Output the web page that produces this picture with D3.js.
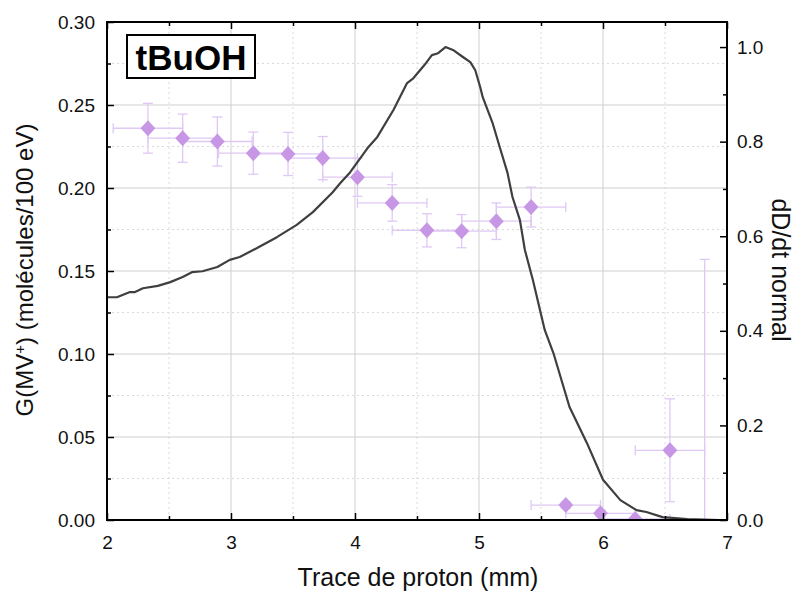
<!DOCTYPE html>
<html><head><meta charset="utf-8">
<script src="https://cdn.jsdelivr.net/npm/d3@7"></script>
<style>body{margin:0;background:#fff}text{font-family:"Liberation Sans",Arial,sans-serif}</style>
</head><body><svg id="c" width="795" height="592"></svg>
<script>
// Data
const ptX = [2.33, 2.61, 2.89, 3.18, 3.46, 3.74, 4.02, 4.30, 4.58, 4.86, 5.14, 5.42, 5.70, 5.98, 6.26, 6.54, 6.82];
const ptY = [0.236, 0.230, 0.228, 0.221, 0.2205, 0.218, 0.2065, 0.191, 0.1745, 0.174, 0.180, 0.1885, 0.009, 0.004, 0.0006, 0.042, -0.02];
const ptYerr = [0.015, 0.0145, 0.0148, 0.0127, 0.013, 0.013, 0.0115, 0.011, 0.010, 0.010, 0.011, 0.012, 0.002, 0.002, 0.001, 0.031, 0.177];
const ptXerr = [0.28, 0.28, 0.28, 0.28, 0.28, 0.28, 0.28, 0.28, 0.28, 0.28, 0.28, 0.28, 0.28, 0.28, 0.28, 0.28, 0.28];
const curveX = [2.0, 2.08, 2.185, 2.226, 2.29, 2.41, 2.51, 2.61, 2.685, 2.77, 2.89, 2.99, 3.07, 3.21, 3.37, 3.53, 3.66, 3.82, 3.88, 3.96, 4.10, 4.18, 4.31, 4.42, 4.47, 4.56, 4.62, 4.67, 4.73, 4.79, 4.87, 4.93, 4.97, 5.01, 5.03, 5.11, 5.17, 5.23, 5.27, 5.33, 5.37, 5.435, 5.53, 5.60, 5.73, 5.87, 6.0, 6.14, 6.27, 6.35, 6.48, 6.68, 6.94];
const curveY = [0.471, 0.471, 0.482, 0.482, 0.490, 0.495, 0.503, 0.514, 0.524, 0.526, 0.535, 0.550, 0.556, 0.575, 0.598, 0.624, 0.651, 0.693, 0.712, 0.735, 0.786, 0.810, 0.867, 0.924, 0.934, 0.962, 0.983, 0.987, 1.0, 0.994, 0.979, 0.968, 0.951, 0.915, 0.894, 0.839, 0.786, 0.734, 0.683, 0.634, 0.571, 0.507, 0.402, 0.353, 0.239, 0.163, 0.085, 0.042, 0.021, 0.017, 0.006, 0.002, 0.0];
const xTicks = [2, 3, 4, 5, 6, 7];
const xMinor = [2.5, 3.5, 4.5, 5.5, 6.5];
const yTicks = [0, 0.05, 0.10, 0.15, 0.20, 0.25, 0.30];
const yMinor = [0.025, 0.075, 0.125, 0.175, 0.225, 0.275];
const y2Ticks = [0, 0.2, 0.4, 0.6, 0.8, 1.0];
const y2Minor = [0.1, 0.3, 0.5, 0.7, 0.9];

const L = 107, R = 727, T = 22, B = 520;
const svg = d3.select("#c");
const x = d3.scaleLinear().domain([2, 7]).range([L, R]);
const y = d3.scaleLinear().domain([0, 0.30]).range([B, T]);
const y2 = d3.scaleLinear().domain([0, 1.053]).range([B, T]);

svg.append("defs").append("clipPath").attr("id", "clip")
  .append("rect").attr("x", L).attr("y", T).attr("width", R - L).attr("height", B - T);

const grid = svg.append("g");
grid.selectAll(".vg").data(xTicks.slice(1, -1)).join("line")
  .attr("x1", d => x(d)).attr("x2", d => x(d)).attr("y1", T).attr("y2", B)
  .attr("stroke", "#cfcfcf").attr("stroke-width", 1);
grid.selectAll(".vm").data(xMinor).join("line")
  .attr("x1", d => x(d)).attr("x2", d => x(d)).attr("y1", T).attr("y2", B)
  .attr("stroke", "#dadada").attr("stroke-width", 1).attr("stroke-dasharray", "2,3");
grid.selectAll(".hg").data(yTicks.slice(1, -1)).join("line")
  .attr("y1", d => y(d)).attr("y2", d => y(d)).attr("x1", L).attr("x2", R)
  .attr("stroke", "#cfcfcf").attr("stroke-width", 1);
grid.selectAll(".hm").data(yMinor).join("line")
  .attr("y1", d => y(d)).attr("y2", d => y(d)).attr("x1", L).attr("x2", R)
  .attr("stroke", "#dadada").attr("stroke-width", 1).attr("stroke-dasharray", "2,3");

const plot = svg.append("g").attr("clip-path", "url(#clip)");
const ec = "#e0c8f5";
const pts = ptX.map((d, i) => ({x: d, y: ptY[i], ex: ptXerr[i], ey: ptYerr[i]}));
const eb = plot.append("g").attr("stroke", ec).attr("stroke-width", 1.3).attr("fill", "none");
pts.forEach(p => {
  eb.append("line").attr("x1", x(p.x - p.ex)).attr("x2", x(p.x + p.ex)).attr("y1", y(p.y)).attr("y2", y(p.y));
  eb.append("line").attr("x1", x(p.x)).attr("x2", x(p.x)).attr("y1", y(p.y - p.ey)).attr("y2", y(p.y + p.ey));
  [p.y - p.ey, p.y + p.ey].forEach(v => eb.append("line").attr("x1", x(p.x) - 5).attr("x2", x(p.x) + 5).attr("y1", y(v)).attr("y2", y(v)));
  [p.x - p.ex, p.x + p.ex].forEach(v => eb.append("line").attr("x1", x(v)).attr("x2", x(v)).attr("y1", y(p.y) - 5).attr("y2", y(p.y) + 5));
});

const line = d3.line().x((d, i) => x(curveX[i])).y(d => y2(d));
plot.append("path").attr("d", line(curveY)).attr("fill", "none")
  .attr("stroke", "#3f3f3f").attr("stroke-width", 2.2).attr("stroke-linejoin", "round");

plot.selectAll(".pt").data(pts).join("path")
  .attr("d", d3.symbol().type(d3.symbolDiamond2).size(140))
  .attr("transform", d => `translate(${x(d.x)},${y(d.y)}) scale(1,1.08)`)
  .attr("fill", "#c797e6");

// Axes
const FS = 19;
function tickG(sel) { sel.selectAll("path.domain").remove(); sel.selectAll("line").attr("stroke", "#000").attr("stroke-width", 1.5); sel.selectAll("text").attr("font-family", "Liberation Sans, Arial, sans-serif").attr("font-size", FS).attr("fill", "#111"); }

const gb = svg.append("g").attr("transform", `translate(0,${B})`)
  .call(d3.axisBottom(x).tickValues(xTicks).tickSize(-7).tickPadding(16).tickFormat(d3.format("d")));
tickG(gb);
const gbm = svg.append("g").attr("transform", `translate(0,${B})`)
  .call(d3.axisBottom(x).tickValues(xMinor).tickSize(-4).tickFormat(""));
tickG(gbm);
const gt = svg.append("g").attr("transform", `translate(0,${T})`)
  .call(d3.axisTop(x).tickValues(xTicks).tickSize(-7).tickFormat(""));
tickG(gt);
const gtm = svg.append("g").attr("transform", `translate(0,${T})`)
  .call(d3.axisTop(x).tickValues(xMinor).tickSize(-4).tickFormat(""));
tickG(gtm);
const gl = svg.append("g").attr("transform", `translate(${L},0)`)
  .call(d3.axisLeft(y).tickValues(yTicks).tickSize(-7).tickPadding(12).tickFormat(d3.format(".2f")));
tickG(gl);
const glm = svg.append("g").attr("transform", `translate(${L},0)`)
  .call(d3.axisLeft(y).tickValues(yMinor).tickSize(-4).tickFormat(""));
tickG(glm);
const gr = svg.append("g").attr("transform", `translate(${R},0)`)
  .call(d3.axisRight(y2).tickValues(y2Ticks).tickSize(-7).tickPadding(10).tickFormat(d3.format(".1f")));
tickG(gr);
const grm = svg.append("g").attr("transform", `translate(${R},0)`)
  .call(d3.axisRight(y2).tickValues(y2Minor).tickSize(-4).tickFormat(""));
tickG(grm);

svg.append("rect").attr("x", L).attr("y", T).attr("width", R - L).attr("height", B - T)
  .attr("fill", "none").attr("stroke", "#000").attr("stroke-width", 2);

// Titles
svg.append("text").attr("x", 418).attr("y", 586).attr("text-anchor", "middle")
  .attr("font-size", 25).attr("fill", "#111").text("Trace de proton (mm)");
const yt = svg.append("text").attr("transform", `translate(33,270) rotate(-90)`)
  .attr("text-anchor", "middle").attr("font-size", 24).attr("fill", "#111");
yt.append("tspan").text("G(MV");
yt.append("tspan").attr("baseline-shift", "super").attr("font-size", 15).text("+");
yt.append("tspan").text(") (molécules/100 eV)");
svg.append("text").attr("transform", `translate(772,270) rotate(90)`)
  .attr("text-anchor", "middle").attr("font-size", 25).attr("fill", "#111").text("dD/dt normal");

// Label box
svg.append("rect").attr("x", 127).attr("y", 35).attr("width", 128).attr("height", 43)
  .attr("fill", "#fff").attr("stroke", "#000").attr("stroke-width", 2);
svg.append("text").attr("x", 191).attr("y", 70).attr("text-anchor", "middle")
  .attr("font-size", 35).attr("font-weight", "bold").attr("fill", "#000").text("tBuOH");
</script></body></html>
